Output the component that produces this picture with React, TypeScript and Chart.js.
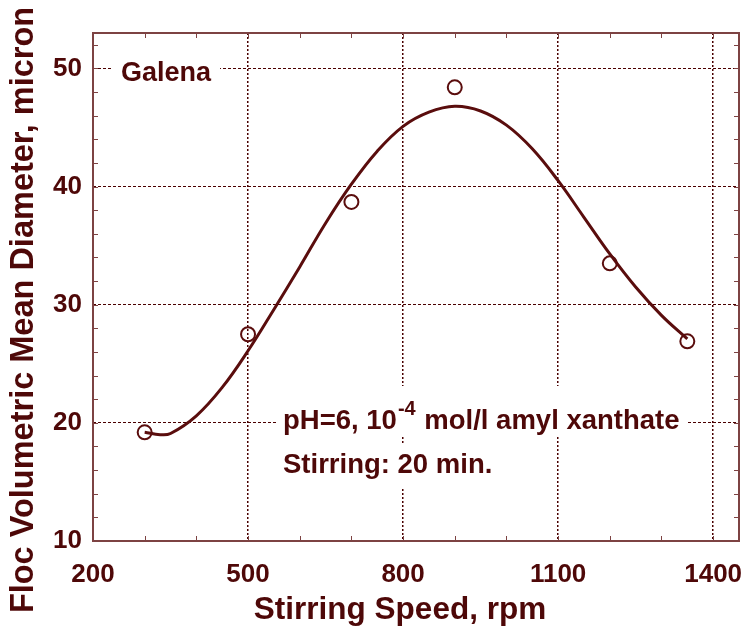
import { useEffect, useRef } from 'react';
import { Chart, registerables } from 'chart.js';

Chart.register(...registerables);

// ---- data ----
const speeds = [300, 500, 700, 900, 1200, 1350];
const diameters = [19.2, 27.5, 38.7, 48.4, 33.5, 26.9];

const fitSpeeds = [300, 330, 350, 400, 450, 500, 550, 600, 650, 700, 750, 800, 850, 900, 950, 1000, 1050, 1100, 1150, 1200, 1250, 1300, 1350];
const fitDiameters = [19.2, 19.0, 19.1, 20.6, 23.0, 26.1, 29.6, 33.2, 36.9, 40.2, 43.0, 45.1, 46.3, 46.8, 46.4, 45.2, 43.2, 40.5, 37.4, 34.3, 31.5, 29.1, 27.1];

const xTicks = [200, 500, 800, 1100, 1400];
const yTicks = [10, 20, 30, 40, 50];
const xMinorTicks = [300, 400, 500, 600, 700, 800, 900, 1000, 1100, 1200, 1300, 1400];
const yMinorTicks = [12, 14, 16, 18, 20, 22, 24, 26, 28, 30, 32, 34, 36, 38, 40, 42, 44, 46, 48, 50, 52];

const xTitle = 'Stirring Speed, rpm';
const yTitle = 'Floc Volumetric Mean Diameter, micron';
const sampleLabel = 'Galena';
const conditionMain = 'pH=6, 10';
const conditionSup = '-4';
const conditionTail = ' mol/l amyl xanthate';
const conditionLine2 = 'Stirring: 20 min.';

// ---- styles ----
const INK = '#4e0808';
const LINE = '#5a0d0d';
const FRAME = '#7d4343';
const FONT = "'Liberation Sans', Arial, Helvetica, sans-serif";

const decorPlugin = {
  id: 'decor',
  afterDraw(chart: any) {
    const { ctx, chartArea: a, scales } = chart;
    const xs = scales.x;
    const ys = scales.y;
    ctx.save();

    // minor ticks (inward)
    ctx.strokeStyle = FRAME;
    ctx.lineWidth = 1;
    ctx.beginPath();
    for (const v of yMinorTicks) {
      const y = Math.round(ys.getPixelForValue(v)) + 0.5;
      ctx.moveTo(a.left, y); ctx.lineTo(a.left + 5, y);
      ctx.moveTo(a.right, y); ctx.lineTo(a.right - 5, y);
    }
    for (const v of xMinorTicks) {
      const x = Math.round(xs.getPixelForValue(v)) + 0.5;
      ctx.moveTo(x, a.top); ctx.lineTo(x, a.top + 5);
      ctx.moveTo(x, a.bottom); ctx.lineTo(x, a.bottom - 5);
    }
    ctx.stroke();

    // frame
    ctx.lineWidth = 2;
    ctx.strokeStyle = FRAME;
    ctx.strokeRect(a.left, a.top, a.right - a.left, a.bottom - a.top);

    // annotations with white backgrounds
    ctx.fillStyle = INK;
    ctx.textBaseline = 'alphabetic';
    ctx.textAlign = 'left';

    const mainFont = `bold 27.5px ${FONT}`;
    const supFont = `bold 20px ${FONT}`;

    // Galena
    ctx.font = `bold 27px ${FONT}`;
    const gx = a.left + 28;
    const gy = a.top + 48;
    const gw = ctx.measureText(sampleLabel).width;
    ctx.fillStyle = '#ffffff';
    ctx.fillRect(gx - 9, gy - 30, gw + 18, 44);
    ctx.fillStyle = INK;
    ctx.fillText(sampleLabel, gx, gy);

    // condition line 1
    const cx = a.left + 190;
    const cy1 = a.top + 396;
    ctx.font = mainFont;
    const w1 = ctx.measureText(conditionMain).width;
    ctx.font = supFont;
    const w2 = ctx.measureText(conditionSup).width;
    ctx.font = mainFont;
    const w3 = ctx.measureText(conditionTail).width;
    ctx.fillStyle = '#ffffff';
    ctx.fillRect(cx - 7, cy1 - 43, w1 + w2 + w3 + 16, 51);
    ctx.fillStyle = INK;
    ctx.font = mainFont;
    ctx.fillText(conditionMain, cx, cy1);
    ctx.font = supFont;
    ctx.fillText(conditionSup, cx + w1 + 1, cy1 - 14);
    ctx.font = mainFont;
    ctx.fillText(conditionTail, cx + w1 + w2 + 2, cy1);

    // condition line 2
    const cy2 = a.top + 440;
    const w4 = ctx.measureText(conditionLine2).width;
    ctx.fillStyle = '#ffffff';
    ctx.fillRect(cx - 7, cy2 - 28, w4 + 14, 42);
    ctx.fillStyle = INK;
    ctx.fillText(conditionLine2, cx, cy2);

    // axis titles
    ctx.textAlign = 'center';
    ctx.font = `bold 31.5px ${FONT}`;
    ctx.fillText(xTitle, 400, 619);
    ctx.font = `bold 32.5px ${FONT}`;
    ctx.translate(33, 310);
    ctx.rotate(-Math.PI / 2);
    ctx.fillText(yTitle, 0, 0);

    ctx.restore();
  },
};

export default function App() {
  const canvasRef = useRef<HTMLCanvasElement | null>(null);

  useEffect(() => {
    document.body.style.margin = '0';
    const canvas = canvasRef.current;
    if (!canvas) return;

    const chart = new Chart(canvas, {
      type: 'scatter',
      data: {
        datasets: [
          {
            label: 'measured',
            data: speeds.map((s, i) => ({ x: s, y: diameters[i] })),
            showLine: false,
            pointRadius: 7,
            pointHoverRadius: 7,
            pointBorderWidth: 2,
            pointBackgroundColor: 'rgba(255,255,255,0)',
            pointBorderColor: LINE,
            order: 0,
          },
          {
            label: 'fit',
            data: fitSpeeds.map((s, i) => ({ x: s, y: fitDiameters[i] })),
            showLine: true,
            borderColor: LINE,
            borderWidth: 3,
            pointRadius: 0,
            pointHoverRadius: 0,
            tension: 0.4,
            fill: false,
            order: 1,
          } as any,
        ],
      },
      options: {
        animation: false,
        responsive: true,
        maintainAspectRatio: false,
        events: [],
        layout: { autoPadding: false, padding: { top: 33, right: 4, left: 0, bottom: 0 } },
        plugins: {
          legend: { display: false },
          tooltip: { enabled: false },
          title: { display: false },
        },
        scales: {
          x: {
            type: 'linear',
            min: 200,
            max: 1450,
            afterBuildTicks: (scale: any) => {
              scale.ticks = xTicks.map((v) => ({ value: v }));
            },
            afterFit: (scale: any) => {
              scale.height = 89;
              scale.paddingLeft = 0;
              scale.paddingRight = 0;
            },
            ticks: {
              autoSkip: false,
              maxRotation: 0,
              padding: 18,
              color: INK,
              font: { family: FONT, size: 26, weight: 'bold' },
              callback: (v: any) => String(v),
            },
            grid: {
              drawTicks: false,
              lineWidth: 1.5,
              color: (c: any) => (c.tick && c.tick.value === 200 ? 'rgba(0,0,0,0)' : '#4a0000'),
            },
            border: { display: false, dash: [2, 2] },
          },
          y: {
            type: 'linear',
            min: 10,
            max: 53,
            afterBuildTicks: (scale: any) => {
              scale.ticks = yTicks.map((v) => ({ value: v }));
            },
            afterFit: (scale: any) => {
              scale.width = 93;
              scale.paddingTop = 0;
              scale.paddingBottom = 0;
            },
            ticks: {
              autoSkip: false,
              padding: 11,
              color: INK,
              font: { family: FONT, size: 26, weight: 'bold' },
              callback: (v: any) => String(v),
            },
            grid: {
              drawTicks: false,
              lineWidth: 1,
              color: (c: any) => (c.tick && c.tick.value === 10 ? 'rgba(0,0,0,0)' : '#4a0000'),
            },
            border: { display: false, dash: [3, 2] },
          },
        },
      },
      plugins: [decorPlugin],
    });

    return () => chart.destroy();
  }, []);

  return (
    <div style={{ position: 'absolute', left: 0, top: 0, width: 743, height: 630, background: '#ffffff' }}>
      <canvas ref={canvasRef} />
    </div>
  );
}
